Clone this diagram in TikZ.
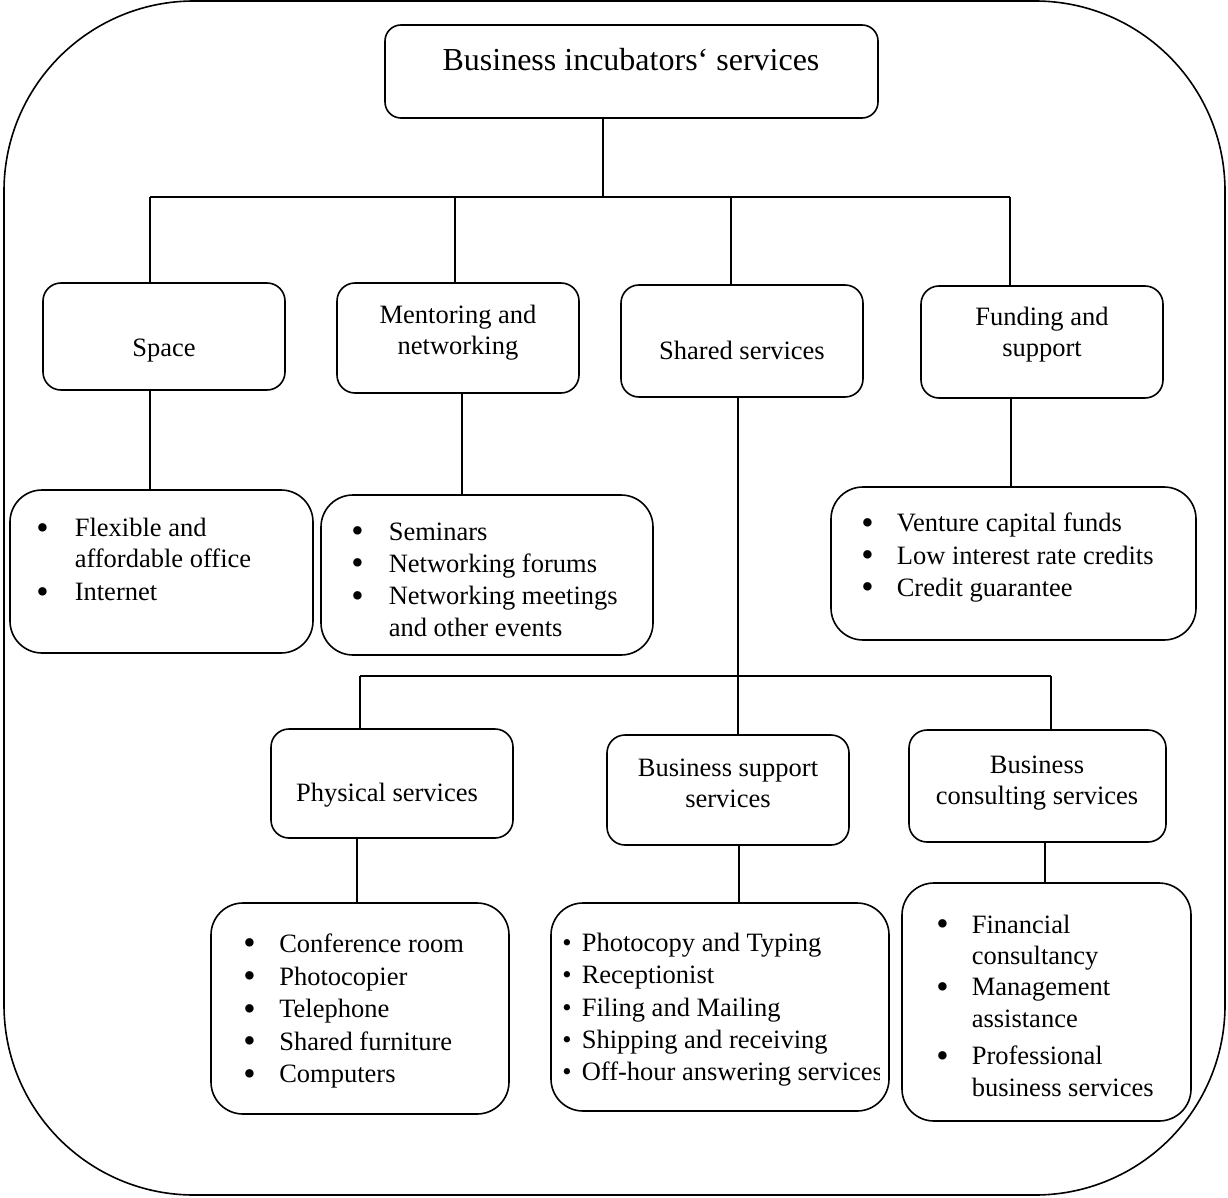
\documentclass[tikz,border=0pt]{standalone}
\usepackage{graphicx}
\usepackage{fontspec}
\setmainfont{Liberation Serif}
% large bullet followed by a fixed gap before the item text
\newcommand\itembul[1]{\makebox[#1][l]{\smash{\raisebox{-0.09em}{\scalebox{1.33}{\textbullet}}}}}
% plain bullet with a fixed gap
\newcommand\smallbul[1]{\makebox[#1][l]{\textbullet}}
\begin{document}
\begin{tikzpicture}[x=1pt,y=-1pt,line width=1.6pt,
  card/.style={draw, rounded corners=18pt, inner sep=0pt},
  listcard/.style={draw, rounded corners=32pt, inner sep=0pt},
  caption/.style={font=\fontsize{26.5}{31}\selectfont, align=center, inner sep=0pt},
  items/.style={font=\fontsize{26.5}{32.2}\selectfont, align=left, inner sep=0pt, anchor=north west}]
\useasboundingbox (0,0) rectangle (1228,1198);

% outer frame
\draw[rounded corners=190pt] (4,1) rectangle (1225,1195);

% title
\node[card, rounded corners=16pt, minimum width=493pt, minimum height=93pt] (top) at (631.5,71.5) {};
\node[inner sep=0pt, font=\fontsize{32}{36}\selectfont] (toptext) at (631,60) {Business incubators` services};

% second level
\node[card, minimum width=242pt, minimum height=107pt] (space) at (164,336.5) {};
\node[caption] (spacetext) at (164,351) {Space};
\node[card, minimum width=242pt, minimum height=110pt] (mentor) at (458,338) {};
\node[caption] (mentortext) at (458,332.5) {Mentoring and\\networking};
\node[card, minimum width=242pt, minimum height=112pt] (shared) at (742,341) {};
\node[caption] (sharedtext) at (742,350) {Shared services};
\node[card, minimum width=242pt, minimum height=112pt] (fund) at (1042,342) {};
\node[caption] (fundtext) at (1042,335) {Funding and\\support};

% lists under the second level
\node[listcard, minimum width=303pt, minimum height=163pt] (spacelist) at (161.5,571.5) {};
\node[items, font=\fontsize{26.5}{31}\selectfont] (spaceitems) at (35.5,517.5) {\itembul{38.5pt}Flexible and\\\hspace*{38.5pt}affordable office\\[2pt]\itembul{38.5pt}Internet};
\node[listcard, minimum width=332pt, minimum height=160pt] (mentorlist) at (487,575) {};
\node[items] (mentoritems) at (350.5,522) {\itembul{37.5pt}Seminars\\\itembul{37.5pt}Networking forums\\\itembul{37.5pt}Networking meetings\\\hspace*{37.5pt}and other events};
\node[listcard, minimum width=365pt, minimum height=153pt] (fundlist) at (1013.5,563.5) {};
\node[items] (funditems) at (860.5,512.5) {\itembul{35.5pt}Venture capital funds\\\itembul{35.5pt}Low interest rate credits\\\itembul{35.5pt}Credit guarantee};

% third level
\node[card, minimum width=242pt, minimum height=109pt] (phys) at (392,783.5) {};
\node[caption] (phystext) at (387,795) {Physical services};
\node[card, minimum width=242pt, minimum height=110pt] (bsup) at (728,790) {};
\node[caption] (bsuptext) at (728,783.5) {Business support\\services};
\node[card, minimum width=257pt, minimum height=112pt] (bcons) at (1037.5,786) {};
\node[caption] (bconstext) at (1037,783) {Business\\consulting services};

% lists under the third level
\node[listcard, minimum width=298pt, minimum height=211pt] (physlist) at (360,1008.5) {};
\node[items, font=\fontsize{26.5}{32.6}\selectfont] (physitems) at (242.5,933) {\itembul{36pt}Conference room\\\itembul{36pt}Photocopier\\\itembul{36pt}Telephone\\\itembul{36pt}Shared furniture\\\itembul{36pt}Computers};
\node[listcard, minimum width=338pt, minimum height=208pt] (bsuplist) at (720,1007) {};
\begin{scope}
  \clip (551,880) rectangle (879,1100);
  \node[items] (bsupitems) at (561.5,932.5) {\smallbul{19.5pt}Photocopy and Typing\\\smallbul{19.5pt}Receptionist\\\smallbul{19.5pt}Filing and Mailing\\\smallbul{19.5pt}Shipping and receiving\\\smallbul{19.5pt}Off-hour answering services};
\end{scope}
\node[listcard, minimum width=289pt, minimum height=238pt] (conslist) at (1046.5,1002) {};
\node[items, font=\fontsize{26.5}{31.3}\selectfont] (consitems) at (935.5,914) {\itembul{35.5pt}Financial\\\hspace*{35.5pt}consultancy\\\itembul{35.5pt}Management\\\hspace*{35.5pt}assistance\\[6.5pt]\itembul{35.5pt}Professional\\\hspace*{35.5pt}business services};

% connectors, upper tree
\coordinate (busmid) at (603,197);
\coordinate (busl) at (150,197);
\coordinate (busr) at (1010,197);
\coordinate (busm1) at (455,197);
\coordinate (busm2) at (731,197);
\draw (top.south -| busmid) -- (busmid);
\draw (busl) -- (busr);
\draw (busl) -- (busl |- space.north);
\draw (busm1) -- (busm1 |- mentor.north);
\draw (busm2) -- (busm2 |- shared.north);
\draw (busr) -- (busr |- fund.north);

% connectors to the second-level lists
\coordinate (dn1) at (150,0);
\coordinate (dn2) at (462,0);
\coordinate (dn4) at (1011,0);
\draw (space.south -| dn1) -- (spacelist.north -| dn1);
\draw (mentor.south -| dn2) -- (mentorlist.north -| dn2);
\draw (fund.south -| dn4) -- (fundlist.north -| dn4);

% shared services branch
\coordinate (trunk) at (738,676);
\coordinate (bus2l) at (360,676);
\coordinate (bus2r) at (1051,676);
\draw (shared.south -| trunk) -- (bsup.north -| trunk);
\draw (bus2l) -- (bus2r);
\draw (bus2l) -- (bus2l |- phys.north);
\draw (bus2r) -- (bus2r |- bcons.north);

% connectors to the third-level lists
\coordinate (dn5) at (357,0);
\coordinate (dn6) at (739,0);
\coordinate (dn7) at (1045,0);
\draw (phys.south -| dn5) -- (physlist.north -| dn5);
\draw (bsup.south -| dn6) -- (bsuplist.north -| dn6);
\draw (bcons.south -| dn7) -- (conslist.north -| dn7);
\end{tikzpicture}
\end{document}
